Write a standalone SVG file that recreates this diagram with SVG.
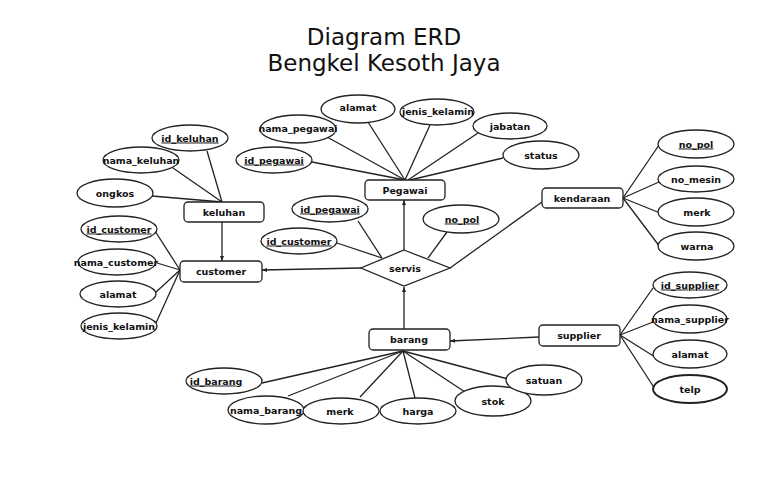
<svg xmlns="http://www.w3.org/2000/svg" width="768" height="503" viewBox="0 0 768 503">
<defs>
<style>
.t{font-family:"DejaVu Sans",sans-serif;font-size:23px;fill:#111;text-anchor:middle}
.e rect,.e ellipse,.e polygon{fill:#fff;stroke:#222;stroke-width:1.3}
.l{font-family:"DejaVu Sans","Liberation Sans",sans-serif;font-size:9.5px;font-weight:bold;fill:#111;text-anchor:middle}
.u{text-decoration:underline}
#conn line{stroke:#222;stroke-width:1.3}
</style>
<marker id="ar" markerWidth="5" markerHeight="5" refX="5" refY="2.5" orient="auto" markerUnits="userSpaceOnUse">
<path d="M0,0.5 L5,2.5 L0,4.5 z" fill="#222"/>
</marker>
</defs>
<rect width="768" height="503" fill="#fff"/>
<text class="t" x="384" y="45">Diagram ERD</text>
<text class="t" x="384" y="71">Bengkel Kesoth Jaya</text>

<g id="conn">
<line x1="207" y1="151" x2="222" y2="202"/>
<line x1="173" y1="168" x2="222" y2="202"/>
<line x1="152" y1="196" x2="222" y2="202"/>
<line x1="222" y1="222" x2="222" y2="261" marker-end="url(#ar)"/>
<line x1="155" y1="231" x2="180" y2="270"/>
<line x1="157" y1="263" x2="180" y2="270"/>
<line x1="155" y1="293" x2="180" y2="270"/>
<line x1="156" y1="323" x2="180" y2="270"/>
<line x1="361" y1="268" x2="262" y2="270" marker-end="url(#ar)"/>
<line x1="404" y1="250" x2="404" y2="200" marker-end="url(#ar)"/>
<line x1="450" y1="268" x2="542" y2="202"/>
<line x1="404" y1="329" x2="404" y2="287" marker-end="url(#ar)"/>
<line x1="539" y1="337" x2="450" y2="341" marker-end="url(#ar)"/>
<line x1="358" y1="221" x2="382" y2="258"/>
<line x1="337" y1="243" x2="382" y2="258"/>
<line x1="447" y1="232" x2="428" y2="258"/>
<line x1="368" y1="122" x2="405" y2="180"/>
<line x1="430" y1="125" x2="405" y2="180"/>
<line x1="327" y1="137" x2="405" y2="180"/>
<line x1="312" y1="162" x2="405" y2="180"/>
<line x1="478" y1="133" x2="408" y2="180"/>
<line x1="503" y1="158" x2="410" y2="180"/>
<line x1="623" y1="198" x2="659" y2="145"/>
<line x1="623" y1="198" x2="659" y2="182"/>
<line x1="623" y1="198" x2="660" y2="213"/>
<line x1="623" y1="198" x2="660" y2="247"/>
<line x1="620" y1="335" x2="653" y2="288"/>
<line x1="620" y1="335" x2="653" y2="322"/>
<line x1="620" y1="335" x2="655" y2="357"/>
<line x1="620" y1="335" x2="655" y2="389"/>
<line x1="403" y1="351" x2="262" y2="383"/>
<line x1="403" y1="351" x2="288" y2="396"/>
<line x1="403" y1="351" x2="360" y2="397"/>
<line x1="403" y1="351" x2="415" y2="398"/>
<line x1="403" y1="351" x2="465" y2="392"/>
<line x1="403" y1="351" x2="508" y2="379"/>
</g>

<g id="keluhan" class="e"><rect x="184" y="202" width="80" height="20" rx="4"/><text class="l" x="224" y="215.5">keluhan</text></g>
<g id="customer" class="e"><rect x="180" y="261" width="82" height="21" rx="4"/><text class="l" x="221" y="275">customer</text></g>
<g id="pegawai" class="e"><rect x="365" y="180" width="80" height="20" rx="4"/><text class="l" x="405" y="193.5">Pegawai</text></g>
<g id="kendaraan" class="e"><rect x="542" y="188" width="81" height="20" rx="4"/><text class="l" x="582" y="201.5">kendaraan</text></g>
<g id="supplier" class="e"><rect x="539" y="325" width="81" height="21" rx="4"/><text class="l" x="579" y="339">supplier</text></g>
<g id="barang" class="e"><rect x="369" y="329" width="81" height="21" rx="4"/><text class="l" x="409" y="343">barang</text></g>
<g id="servis" class="e"><polygon points="404,250 450,268 404,286 361,268"/><text class="l" x="405" y="271.5">servis</text></g>

<g id="a_id_keluhan" class="e"><ellipse cx="190" cy="138" rx="38" ry="13"/><text class="l u" x="190" y="141.5">id_keluhan</text></g>
<g id="a_nama_keluhan" class="e"><ellipse cx="141" cy="160" rx="38" ry="13"/><text class="l" x="141" y="163.5">nama_keluhan</text></g>
<g id="a_ongkos" class="e"><ellipse cx="115" cy="193" rx="38" ry="14"/><text class="l" x="115" y="196.5">ongkos</text></g>

<g id="a_id_customer" class="e"><ellipse cx="119" cy="229" rx="38" ry="13"/><text class="l u" x="119" y="232.5">id_customer</text></g>
<g id="a_nama_customer" class="e"><ellipse cx="117" cy="262" rx="39" ry="13"/><text class="l" x="116" y="265.5">nama_customer</text></g>
<g id="a_alamat_c" class="e"><ellipse cx="118" cy="294" rx="38" ry="13"/><text class="l" x="118" y="297.5">alamat</text></g>
<g id="a_jk_c" class="e"><ellipse cx="119" cy="326" rx="38" ry="13"/><text class="l" x="119" y="329.5">jenis_kelamin</text></g>

<g id="a_alamat_p" class="e"><ellipse cx="358" cy="109" rx="37" ry="14"/><text class="l" x="358" y="111">alamat</text></g>
<g id="a_jk_p" class="e"><ellipse cx="437" cy="112" rx="37" ry="13"/><text class="l" x="438" y="115">jenis_kelamin</text></g>
<g id="a_nama_pegawai" class="e"><ellipse cx="298" cy="129" rx="38" ry="14"/><text class="l" x="298" y="132">nama_pegawai</text></g>
<g id="a_jabatan" class="e"><ellipse cx="510" cy="126" rx="37" ry="13"/><text class="l" x="510" y="129.5">jabatan</text></g>
<g id="a_id_pegawai_p" class="e"><ellipse cx="274" cy="160" rx="38" ry="13"/><text class="l u" x="274" y="163.5">id_pegawai</text></g>
<g id="a_status" class="e"><ellipse cx="541" cy="155" rx="38" ry="14"/><text class="l" x="541" y="158.5">status</text></g>

<g id="a_id_pegawai_s" class="e"><ellipse cx="330" cy="209" rx="38" ry="13"/><text class="l u" x="330" y="212.5">id_pegawai</text></g>
<g id="a_id_customer_s" class="e"><ellipse cx="299" cy="241" rx="38" ry="13"/><text class="l u" x="299" y="244.5">id_customer</text></g>
<g id="a_no_pol_s" class="e"><ellipse cx="461" cy="219" rx="38" ry="14"/><text class="l u" x="462" y="222.5">no_pol</text></g>

<g id="a_no_pol_k" class="e"><ellipse cx="696" cy="144" rx="38" ry="14"/><text class="l u" x="696" y="147.5">no_pol</text></g>
<g id="a_no_mesin" class="e"><ellipse cx="696" cy="179" rx="38" ry="13"/><text class="l" x="696" y="182.5">no_mesin</text></g>
<g id="a_merk_k" class="e"><ellipse cx="696" cy="212" rx="38" ry="14"/><text class="l" x="697" y="215.5">merk</text></g>
<g id="a_warna" class="e"><ellipse cx="696" cy="246" rx="38" ry="14"/><text class="l" x="697" y="249.5">warna</text></g>

<g id="a_id_supplier" class="e"><ellipse cx="690" cy="285" rx="37" ry="13"/><text class="l u" x="690" y="288.5">id_supplier</text></g>
<g id="a_nama_supplier" class="e"><ellipse cx="690" cy="319" rx="37" ry="14"/><text class="l" x="690" y="322.5">nama_supplier</text></g>
<g id="a_alamat_s" class="e"><ellipse cx="690" cy="354" rx="37" ry="14"/><text class="l" x="690" y="357.5">alamat</text></g>
<g id="a_telp" class="e"><ellipse cx="690" cy="389" rx="37" ry="14" style="stroke-width:2"/><text class="l" x="690" y="392.5">telp</text></g>

<g id="a_id_barang" class="e"><ellipse cx="224" cy="381" rx="38" ry="13"/><text class="l u" x="216" y="384.5">id_barang</text></g>
<g id="a_nama_barang" class="e"><ellipse cx="266" cy="410" rx="38" ry="14"/><text class="l" x="266" y="413.5">nama_barang</text></g>
<g id="a_merk_b" class="e"><ellipse cx="341" cy="411" rx="38" ry="13"/><text class="l" x="340" y="414.5">merk</text></g>
<g id="a_harga" class="e"><ellipse cx="418" cy="411" rx="38" ry="13"/><text class="l" x="418" y="414.5">harga</text></g>
<g id="a_stok" class="e"><ellipse cx="493" cy="401" rx="38" ry="15"/><text class="l" x="493" y="404.5">stok</text></g>
<g id="a_satuan" class="e"><ellipse cx="544" cy="380" rx="38" ry="15"/><text class="l" x="544" y="383.5">satuan</text></g>
</svg>
